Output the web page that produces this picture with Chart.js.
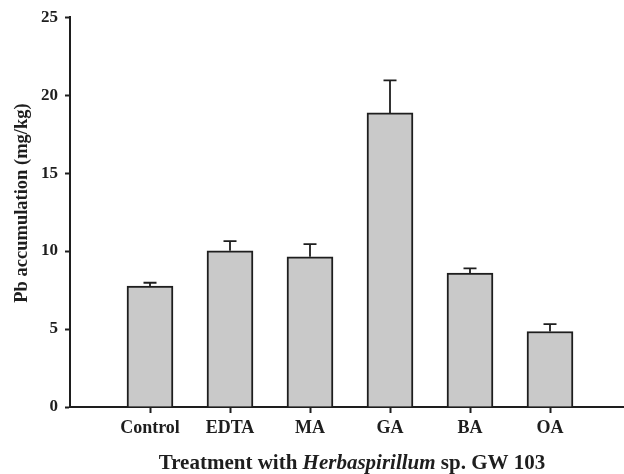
<!DOCTYPE html>
<html>
<head>
  <title>Pb accumulation</title>
  <script src="https://cdn.jsdelivr.net/npm/chart.js"></script>
  <style>
    html, body { margin: 0; padding: 0; background: #fff; }
    .wrap { width: 624px; height: 474px; position: relative; }
  </style>
</head>
<body>
  <div class="wrap">
    <canvas id="pbChart"></canvas>
  </div>
  <script>
    // data
    const treatments = ['Control', 'EDTA', 'MA', 'GA', 'BA', 'OA'];
    const pbValues = [7.76, 10.02, 9.63, 18.86, 8.59, 4.84];
    const pbErrors = [0.21, 0.62, 0.81, 2.09, 0.30, 0.47];
    const yTicks = [0, 5, 10, 15, 20, 25];

    const serif = '"Liberation Serif", "Times New Roman", serif';
    const ink = '#1e1e1e';

    // upper error bars only
    const errorBars = {
      id: 'errorBars',
      afterDatasetsDraw(chart) {
        const meta = chart.getDatasetMeta(0);
        const y = chart.scales.y;
        const c = chart.ctx;
        c.save();
        c.strokeStyle = ink;
        c.lineWidth = 1.8;
        meta.data.forEach((bar, i) => {
          const top = y.getPixelForValue(pbValues[i] + pbErrors[i]);
          c.beginPath();
          c.moveTo(bar.x, bar.y);
          c.lineTo(bar.x, top);
          c.moveTo(bar.x - 6.5, top);
          c.lineTo(bar.x + 6.5, top);
          c.stroke();
        });
        c.restore();
      }
    };

    // axis titles (x title mixes italic)
    const axisTitles = {
      id: 'axisTitles',
      afterDraw(chart) {
        const c = chart.ctx;
        c.save();
        c.fillStyle = ink;
        c.textBaseline = 'alphabetic';
        const parts = [
          ['Treatment with ', 'bold 21px ' + serif],
          ['Herbaspirillum', 'italic bold 21px ' + serif],
          [' sp. GW 103', 'bold 21px ' + serif]
        ];
        let total = 0;
        parts.forEach(p => { c.font = p[1]; total += c.measureText(p[0]).width; });
        let x = 352 - total / 2;
        parts.forEach(p => {
          c.font = p[1];
          c.textAlign = 'left';
          c.fillText(p[0], x, 469);
          x += c.measureText(p[0]).width;
        });

        c.translate(27, 203);
        c.rotate(-Math.PI / 2);
        c.font = 'bold 18.5px ' + serif;
        c.textAlign = 'center';
        c.fillText('Pb accumulation (mg/kg)', 0, 0);
        c.restore();
      }
    };

    const ctx = document.getElementById('pbChart').getContext('2d');
    const pbChart = new Chart(ctx, {
      type: 'bar',
      data: {
        datasets: [{
          data: pbValues.map((v, i) => ({ x: i + 1, y: v })),
          backgroundColor: '#c9c9c9',
          borderColor: ink,
          borderWidth: 2,
          barThickness: 46
        }]
      },
      options: {
        responsive: true,
        maintainAspectRatio: false,
        animation: false,
        layout: { padding: { top: 16, left: 0, right: 0, bottom: 0 } },
        plugins: {
          legend: { display: false },
          tooltip: { enabled: false }
        },
        scales: {
          x: {
            type: 'linear',
            min: 0,
            max: 6.925,
            offset: false,
            afterBuildTicks: axis => { axis.ticks = treatments.map((t, i) => ({ value: i + 1 })); },
            afterFit: axis => { axis.height = 67; },
            grid: { offset: false, drawOnChartArea: false, tickLength: 6, tickColor: ink, tickWidth: 2 },
            border: { color: ink, width: 2 },
            ticks: {
              color: ink,
              padding: 5,
              maxRotation: 0,
              autoSkip: false,
              font: { family: serif, size: 18, weight: 'bold' },
              callback: v => treatments[v - 1]
            }
          },
          y: {
            min: 0,
            max: 25,
            afterBuildTicks: axis => { axis.ticks = yTicks.map(v => ({ value: v })); },
            afterFit: axis => { axis.width = 70; },
            grid: { drawOnChartArea: false, tickLength: 5, tickColor: ink, tickWidth: 2 },
            border: { color: ink, width: 2 },
            ticks: {
              color: ink,
              padding: 7,
              font: { family: serif, size: 17, weight: 'bold' }
            }
          }
        }
      },
      plugins: [errorBars, axisTitles]
    });
  </script>
</body>
</html>
